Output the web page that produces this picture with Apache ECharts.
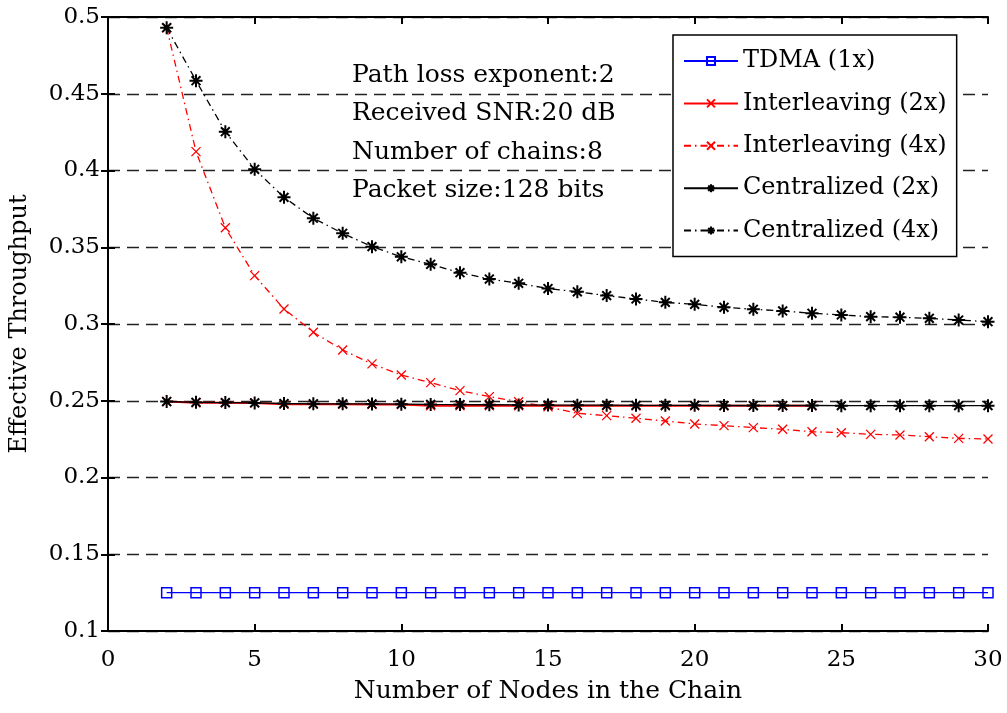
<!DOCTYPE html>
<html><head><meta charset="utf-8">
<script src="https://cdn.jsdelivr.net/npm/echarts@6/dist/echarts.min.js"></script>
<style>html,body{margin:0;padding:0;background:#fff}#c{width:1007px;height:713px}</style>
</head><body><div id="c"></div>
<script>
const seriesNames = ['TDMA (1x)','Interleaving (2x)','Interleaving (4x)','Centralized (2x)','Centralized (4x)'];
const nodes = [2,3,4,5,6,7,8,9,10,11,12,13,14,15,16,17,18,19,20,21,22,23,24,25,26,27,28,29,30];
const tdma1x = [0.125,0.125,0.125,0.125,0.125,0.125,0.125,0.125,0.125,0.125,0.125,0.125,0.125,0.125,0.125,0.125,0.125,0.125,0.125,0.125,0.125,0.125,0.125,0.125,0.125,0.125,0.125,0.125,0.125];
const inter2xNodes = [2,3,4,5,6,7,8,9,10,11,12,13,14,15,16,17,18,19,20,21,22,23,24];
const inter2x = [0.2495,0.2487,0.2487,0.2486,0.2477,0.2477,0.2477,0.2476,0.2475,0.2467,0.2467,0.2467,0.2467,0.2467,0.2467,0.2467,0.2467,0.2467,0.2467,0.2467,0.2467,0.2467,0.2467];
const inter4x = [0.493,0.4123,0.3627,0.3315,0.3098,0.2946,0.2831,0.274,0.2668,0.2618,0.2566,0.2527,0.2494,0.246,0.2418,0.2403,0.2386,0.2368,0.2349,0.2338,0.2325,0.2314,0.2298,0.2292,0.2281,0.2277,0.2266,0.2255,0.2251];
const central2x = [0.2495,0.249,0.2488,0.2486,0.2482,0.248,0.248,0.2479,0.2478,0.2476,0.2475,0.2474,0.2473,0.2472,0.2471,0.2471,0.247,0.247,0.247,0.2469,0.2469,0.2469,0.2469,0.2468,0.2468,0.2468,0.2468,0.2468,0.2468];
const central4x = [0.493,0.4585,0.4253,0.4008,0.3825,0.3689,0.3591,0.3504,0.3438,0.3389,0.3334,0.3293,0.3265,0.3231,0.321,0.3185,0.3163,0.3141,0.3128,0.3109,0.3096,0.3085,0.307,0.3059,0.3048,0.3044,0.3037,0.3026,0.3015];
const notes = ['Path loss exponent:2','Received SNR:20 dB','Number of chains:8','Packet size:128 bits'];
const yTicks = {min:0.1, max:0.5, interval:0.05};
const xTicks = {min:0, max:30, interval:5};

const FONT = '"DejaVu Serif","Liberation Serif",serif';
const zip = (xs, ys) => xs.map((x,i)=>[x, ys[i]]);
const X_PATH = 'path://M0,0L10,10M10,0L0,10';
const STAR_PATH = 'path://M5,0L5,10M0,5L10,5M1.6,1.6L8.4,8.4M8.4,1.6L1.6,8.4';
const dashDot = [7,4,1.5,4];

const chart = echarts.init(document.getElementById('c'), null, {renderer:'canvas'});
const axisCommon = {
  axisLine:{show:true, lineStyle:{color:'#000', width:2}},
  axisTick:{show:true, inside:true, length:7, lineStyle:{color:'#000', width:2}},
};
chart.setOption({
  animation:false,
  backgroundColor:'#fff',
  grid:{left:108, right:19, top:17, bottom:82, show:false, containLabel:false, outerBoundsMode:'none'},
  legend:{
    orient:'vertical', left:673, top:35,
    padding:[13,10,13,10],
    itemWidth:54, itemHeight:10, itemGap:16.4,
    backgroundColor:'#fff', borderColor:'#000', borderWidth:1.5, borderRadius:0,
    textStyle:{fontFamily:FONT, fontSize:24, color:'#000', lineHeight:26},
    data: seriesNames
  },
  xAxis:[
    Object.assign({type:'value', position:'bottom', min:xTicks.min, max:xTicks.max, interval:xTicks.interval,
      name:'Number of Nodes in the Chain', nameLocation:'middle', nameGap:48,
      nameTextStyle:{fontFamily:FONT, fontSize:25, color:'#000'},
      axisLabel:{fontFamily:FONT, fontSize:23, color:'#000', margin:18},
      splitLine:{show:false}}, axisCommon),
    Object.assign({type:'value', position:'top', min:xTicks.min, max:xTicks.max, interval:xTicks.interval,
      axisLabel:{show:false}, splitLine:{show:false}}, axisCommon)
  ],
  yAxis:[
    Object.assign({type:'value', position:'left', min:yTicks.min, max:yTicks.max, interval:yTicks.interval,
      name:'Effective Throughput', nameLocation:'middle', nameGap:76,
      nameTextStyle:{fontFamily:FONT, fontSize:24, color:'#000'},
      axisLabel:{fontFamily:FONT, fontSize:23, color:'#000', margin:8},
      splitLine:{show:true, lineStyle:{color:'#222', width:1.3, type:[12,7]}}}, axisCommon),
    Object.assign({type:'value', position:'right', min:yTicks.min, max:yTicks.max, interval:yTicks.interval,
      axisLabel:{show:false}, splitLine:{show:false}}, axisCommon)
  ],
  graphic: notes.map((t,i)=>({
    type:'text', x:352, y:75 + i*38.5, silent:true,
    style:{text:t, fontFamily:FONT, fontSize:25, fill:'#000', verticalAlign:'middle', align:'left'}
  })),
  series:[
    {name:seriesNames[0], type:'line', data:zip(nodes, tdma1x), color:'#0000ff',
     symbol:'rect', symbolSize:10, showAllSymbol:true,
     lineStyle:{color:'#0000ff', width:1.3},
     itemStyle:{color:'rgba(0,0,0,0)', borderColor:'#0000ff', borderWidth:1.5}},
    {name:seriesNames[1], type:'line', data:zip(inter2xNodes, inter2x), color:'#ff0000',
     symbol:X_PATH, symbolSize:9, showAllSymbol:true,
     lineStyle:{color:'#ff0000', width:2},
     itemStyle:{color:'rgba(0,0,0,0)', borderColor:'#ff0000', borderWidth:1.3}},
    {name:seriesNames[2], type:'line', data:zip(nodes, inter4x), color:'#ff0000',
     symbol:X_PATH, symbolSize:9, showAllSymbol:true,
     lineStyle:{color:'#ff0000', width:1.3, type:dashDot},
     itemStyle:{color:'rgba(0,0,0,0)', borderColor:'#ff0000', borderWidth:1.3}},
    {name:seriesNames[3], type:'line', data:zip(nodes, central2x), color:'#000',
     symbol:STAR_PATH, symbolSize:13, showAllSymbol:true,
     lineStyle:{color:'#000', width:1.3},
     itemStyle:{color:'rgba(0,0,0,0)', borderColor:'#000', borderWidth:2}},
    {name:seriesNames[4], type:'line', data:zip(nodes, central4x), color:'#000',
     symbol:STAR_PATH, symbolSize:13, showAllSymbol:true,
     lineStyle:{color:'#000', width:1.3, type:dashDot},
     itemStyle:{color:'rgba(0,0,0,0)', borderColor:'#000', borderWidth:2}}
  ]
});
</script></body></html>
